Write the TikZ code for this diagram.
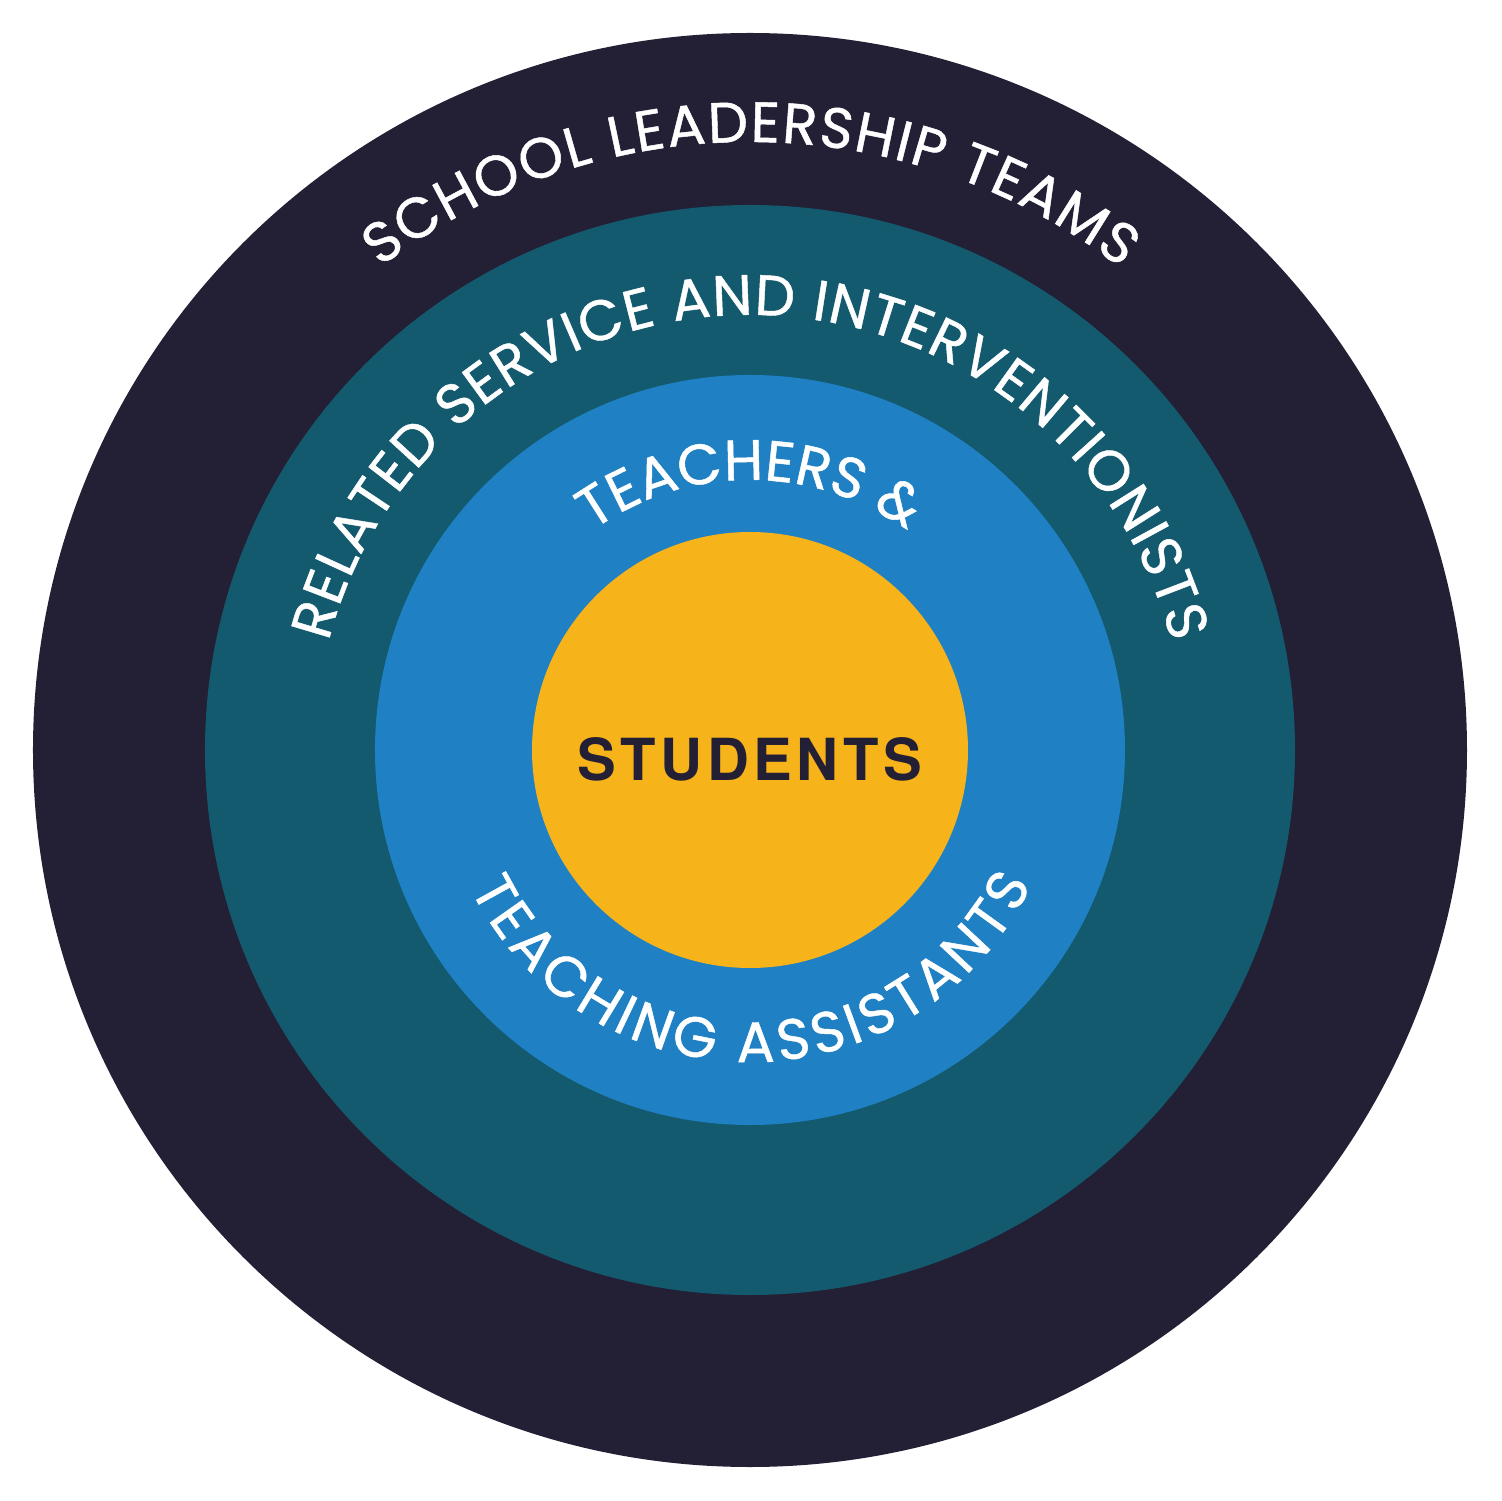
\documentclass[tikz,border=0pt]{standalone}
\usepackage{fontspec}
\setmainfont{Poppins}
\newfontfamily\ringfamily[FakeBold=0.8]{Poppins}
\newfontfamily\centrefont[LetterSpace=8]{TeX Gyre Heros}
\usetikzlibrary{decorations.text}

\definecolor{leadernavy}{HTML}{231F35}
\definecolor{serviceteal}{HTML}{145A6E}
\definecolor{teacherblue}{HTML}{1F80C3}
\definecolor{studentgold}{HTML}{F7B31A}

\newcommand{\ringfont}{\ringfamily\fontsize{16.2}{19}\selectfont}

\begin{document}
\begin{tikzpicture}[
        ring/.style={circle, inner sep=0pt, draw=none},
        ringlabel/.style 2 args={decorate, decoration={text along path, text color=white, text align=center, text={|\ringfont\kern#1|#2}}}
    ]
        \useasboundingbox (-7.5,-7.51) rectangle (7.51,7.5);

        % Rings, outside in.
        \node[ring, fill=leadernavy, minimum size=14.34cm] (leaders) at (0,0) {};
        \node[ring, fill=serviceteal, minimum size=10.9cm] (services) at (0,0) {};
        \node[ring, fill=teacherblue, minimum size=7.5cm] (teachers) at (0,0) {};
        \node[ring, fill=studentgold, minimum size=4.36cm] (students) at (0,0) {};

        % Labels along the rings.
        \path[ringlabel={0.5pt}{SCHOOL LEADERSHIP TEAMS}]
            (180:6.08) arc[start angle=180, end angle=0, radius=6.08];
        \path[ringlabel={0.3pt}{RELATED SERVICE AND INTERVENTIONISTS}]
            (180:4.35) arc[start angle=180, end angle=0, radius=4.35];
        \path[ringlabel={0pt}{TEACHERS {\&}}]
            (180:2.7) arc[start angle=180, end angle=0, radius=2.7];
        \path[ringlabel={1.2pt}{TEACHING ASSISTANTS}]
            (180:3.12) arc[start angle=180, end angle=360, radius=3.12];

        % Centre.
        \node[text=leadernavy, font={\centrefont\bfseries\fontsize{16.5}{20}\selectfont}] (studentslabel) at (0,-0.09) {STUDENTS};
\end{tikzpicture}
\end{document}
